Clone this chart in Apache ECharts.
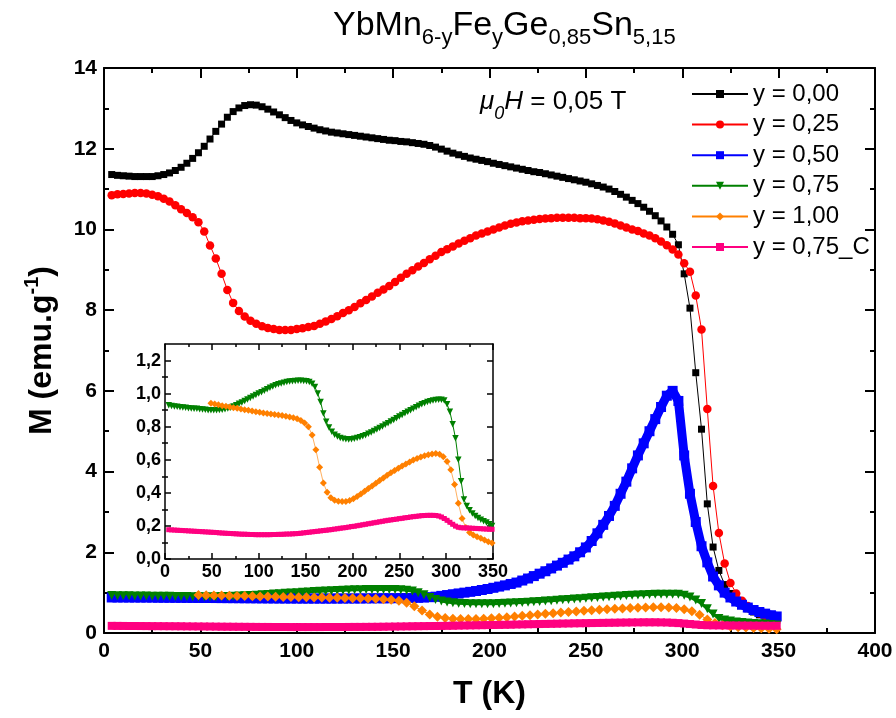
<!DOCTYPE html>
<html><head><meta charset="utf-8">
<script src="https://cdn.jsdelivr.net/npm/echarts/dist/echarts.min.js"></script>
<style>html,body{margin:0;padding:0;background:#fff}#c{width:896px;height:718px}</style>
</head><body><div id="c"></div>
<script>
// Temperature grid (K) for most series
const T_A = [4,7,10,13,16,19,22,25,28,31,
34,37,40,43,46,49,52,55,58,61,
64,67,70,73,76,79,82,85,88,91,
94,97,100,103,106,109,112,115,118,121,
124,127,130,133,136,139,142,145,148,151,
154,157,160,163,166,169,172,175,178,181,
184,187,190,193,196,199,202,205,208,211,
214,217,220,223,226,229,232,235,238,241,
244,247,250,253,256,259,262,265,268,271,
274,277,280,283,286,289,292,295,298,301,
304,307,310,313,316,319,322,325,328,331,
334,337,340,343,346,349];
// Temperature grid (K) for y = 1,00
const T_B = [49,53,57,61,65,69,73,77,81,85,
89,93,97,101,105,109,113,117,121,125,
129,133,137,141,145,149,153,157,161,165,
169,173,177,181,185,189,193,197,201,205,
209,213,217,221,225,229,233,237,241,245,
249,253,257,261,265,269,273,277,281,285,
289,293,297,301,305,309,313,317,321,325,
329,333,337,341,345,349];

const M_y000 = [11.36,11.34,11.33,11.32,11.31,11.31,11.31,11.31,11.33,11.36,
11.40,11.46,11.54,11.64,11.76,11.90,12.06,12.24,12.43,12.61,
12.78,12.92,13.01,13.07,13.09,13.08,13.04,12.98,12.91,12.84,
12.77,12.70,12.64,12.59,12.55,12.51,12.47,12.44,12.41,12.39,
12.37,12.35,12.33,12.31,12.29,12.27,12.25,12.23,12.21,12.20,
12.18,12.17,12.15,12.13,12.11,12.08,12.04,11.99,11.94,11.89,
11.85,11.81,11.77,11.74,11.71,11.68,11.64,11.61,11.58,11.55,
11.52,11.49,11.46,11.43,11.41,11.38,11.35,11.32,11.29,11.26,
11.23,11.20,11.17,11.13,11.09,11.05,11.00,10.94,10.87,10.80,
10.72,10.64,10.55,10.45,10.34,10.21,10.06,9.88,9.62,8.90,
8.05,6.45,5.05,3.20,2.13,1.55,1.20,0.98,0.82,0.70,
0.60,0.52,0.45,0.39,0.35,0.31];

const M_y025 = [10.85,10.87,10.88,10.89,10.90,10.90,10.89,10.86,10.82,10.76,
10.69,10.60,10.50,10.41,10.30,10.18,9.95,9.60,9.28,8.90,
8.50,8.18,7.98,7.84,7.74,7.66,7.60,7.56,7.53,7.51,
7.51,7.51,7.53,7.55,7.58,7.61,7.66,7.72,7.78,7.85,
7.93,8.00,8.08,8.17,8.25,8.34,8.43,8.51,8.60,8.70,
8.80,8.90,8.99,9.08,9.17,9.26,9.35,9.44,9.51,9.58,
9.65,9.72,9.78,9.85,9.90,9.95,10.00,10.05,10.10,10.14,
10.17,10.20,10.22,10.24,10.26,10.27,10.28,10.29,10.29,10.29,
10.29,10.28,10.28,10.27,10.25,10.22,10.19,10.15,10.10,10.05,
10.00,9.96,9.90,9.85,9.78,9.70,9.61,9.50,9.38,9.16,
8.95,8.36,7.52,5.55,3.64,2.48,1.72,1.24,0.98,0.80,
0.67,0.57,0.49,0.42,0.37,0.33];

const M_y050 = [0.880,0.880,0.880,0.879,0.879,0.878,0.878,0.877,0.876,0.875,
0.874,0.873,0.872,0.871,0.870,0.869,0.868,0.867,0.866,0.865,
0.864,0.863,0.862,0.861,0.860,0.859,0.858,0.857,0.856,0.855,
0.855,0.854,0.854,0.853,0.853,0.853,0.853,0.853,0.853,0.854,
0.854,0.855,0.855,0.856,0.857,0.858,0.859,0.860,0.861,0.862,
0.864,0.866,0.869,0.873,0.879,0.887,0.900,0.920,0.940,0.960,
0.980,1.000,1.020,1.040,1.065,1.090,1.120,1.150,1.180,1.215,
1.250,1.300,1.350,1.410,1.470,1.530,1.600,1.670,1.740,1.820,
1.900,2.000,2.120,2.280,2.470,2.680,2.900,3.150,3.450,3.750,
4.080,4.400,4.700,5.000,5.300,5.600,5.880,6.000,5.750,4.400,
3.450,2.750,2.150,1.750,1.400,1.180,1.000,0.880,0.780,0.700,
0.630,0.570,0.520,0.480,0.440,0.410];

const M_y075 = [0.930,0.925,0.922,0.920,0.918,0.916,0.914,0.912,0.910,0.909,
0.908,0.906,0.904,0.902,0.900,0.900,0.900,0.900,0.901,0.903,
0.906,0.910,0.915,0.922,0.930,0.938,0.946,0.955,0.964,0.973,
0.982,0.991,1.000,1.009,1.018,1.027,1.035,1.043,1.050,1.056,
1.061,1.066,1.070,1.073,1.075,1.077,1.078,1.078,1.077,1.075,
1.070,1.060,1.040,1.000,0.950,0.880,0.830,0.795,0.770,0.752,
0.740,0.732,0.727,0.724,0.723,0.724,0.727,0.731,0.736,0.742,
0.749,0.757,0.765,0.774,0.783,0.792,0.801,0.811,0.821,0.831,
0.841,0.851,0.861,0.871,0.881,0.891,0.900,0.909,0.918,0.927,
0.935,0.942,0.949,0.954,0.958,0.961,0.963,0.963,0.958,0.935,
0.890,0.815,0.730,0.600,0.470,0.360,0.320,0.295,0.275,0.260,
0.248,0.238,0.229,0.220,0.210,0.200];

const M_y100 = [0.942,0.937,0.932,0.927,0.923,0.919,0.915,0.911,0.907,0.903,
0.899,0.895,0.891,0.887,0.883,0.880,0.877,0.874,0.871,0.867,
0.863,0.859,0.854,0.848,0.838,0.822,0.800,0.750,0.660,0.555,
0.460,0.403,0.370,0.355,0.349,0.347,0.348,0.354,0.365,0.378,
0.393,0.409,0.426,0.442,0.458,0.474,0.490,0.506,0.521,0.535,
0.549,0.562,0.575,0.587,0.598,0.608,0.617,0.625,0.631,0.635,
0.638,0.634,0.618,0.590,0.540,0.450,0.337,0.245,0.190,0.160,
0.145,0.134,0.125,0.115,0.105,0.096];

const M_y075C = [0.177,0.176,0.175,0.174,0.173,0.172,0.171,0.170,0.169,0.168,
0.167,0.166,0.165,0.164,0.163,0.162,0.161,0.160,0.158,0.157,
0.156,0.155,0.154,0.153,0.152,0.151,0.150,0.150,0.149,0.148,
0.148,0.147,0.147,0.147,0.147,0.147,0.147,0.148,0.148,0.149,
0.149,0.150,0.151,0.151,0.152,0.153,0.154,0.156,0.158,0.160,
0.162,0.164,0.166,0.168,0.170,0.172,0.174,0.176,0.178,0.181,
0.183,0.186,0.188,0.190,0.193,0.196,0.198,0.201,0.204,0.207,
0.210,0.213,0.216,0.219,0.222,0.225,0.228,0.231,0.234,0.236,
0.239,0.241,0.244,0.246,0.249,0.251,0.254,0.256,0.258,0.260,
0.262,0.263,0.264,0.264,0.264,0.263,0.260,0.254,0.245,0.234,
0.222,0.210,0.199,0.192,0.189,0.188,0.188,0.187,0.186,0.185,
0.184,0.183,0.182,0.181,0.180,0.180];

const seriesNames = ['y = 0,00','y = 0,25','y = 0,50','y = 0,75','y = 1,00','y = 0,75_C'];
const insetYMajor = [0,0.2,0.4,0.6,0.8,1.0,1.2];
const insetYMinor = [0.1,0.3,0.5,0.7,0.9,1.1];

const F = "'Liberation Sans', Arial, sans-serif";
const K = '#000';
const pairs = (t, m) => t.map((x, i) => [x, m[i]]);

function frameAxis(extra, lw, tl, ml) {
  return Object.assign({
    type: 'value',
    axisLine: {show: true, onZero: false, lineStyle: {color: K, width: lw}},
    axisTick: {show: true, inside: true, length: tl, lineStyle: {color: K, width: lw}},
    minorTick: {show: true, splitNumber: 2, length: ml, lineStyle: {color: K, width: lw}},
    splitLine: {show: false},
    minorSplitLine: {show: false},
    axisLabel: {show: false}
  }, extra);
}

const mainLabel = {show: true, margin: 8, color: K, fontSize: 21, fontWeight: 'bold', fontFamily: F};
const insetLabel = {show: true, margin: 4, color: K, fontSize: 18, fontWeight: 'bold', fontFamily: F};
const comma = v => v.toFixed(1).replace('.', ',');

const option = {
  backgroundColor: '#fff',
  animation: false,
  textStyle: {fontFamily: F},
  title: [
    {
      text: '{m|YbMn}{s|6-y}{m|Fe}{s|y}{m|Ge}{s|0,85}{m|Sn}{s|5,15}',
      left: 333, top: 9, padding: 0,
      textStyle: {fontFamily: F, color: K, fontWeight: 'normal', rich: {
        m: {fontSize: 34, fontWeight: 'normal', lineHeight: 40, verticalAlign: 'top', color: K, fontFamily: F},
        s: {fontSize: 22, fontWeight: 'normal', lineHeight: 24, verticalAlign: 'top', padding: [18, 0, 0, 0], color: K, fontFamily: F}
      }}
    },
    {
      text: '{i|\u03bc}{j|0}{i|H}{n| = 0,05 T}',
      left: 480, top: 89, padding: 0,
      textStyle: {fontFamily: F, color: K, fontWeight: 'normal', rich: {
        i: {fontSize: 26, fontWeight: 'normal', fontStyle: 'italic', lineHeight: 30, verticalAlign: 'top', color: K, fontFamily: F},
        j: {fontSize: 18, fontWeight: 'normal', fontStyle: 'italic', lineHeight: 20, verticalAlign: 'top', padding: [16, 0, 0, 0], color: K, fontFamily: F},
        n: {fontSize: 26, fontWeight: 'normal', lineHeight: 30, verticalAlign: 'top', color: K, fontFamily: F}
      }}
    }
  ],
  legend: {
    orient: 'vertical', left: 691, top: 82, padding: 0,
    itemWidth: 56, itemHeight: 10, itemGap: 6.6,
    selectedMode: false,
    data: seriesNames,
    textStyle: {fontSize: 24, lineHeight: 24, color: K, fontFamily: F}
  },
  grid: [
    {left: 104, top: 68, width: 771, height: 565, containLabel: false},
    {left: 165, top: 344, width: 328, height: 215, containLabel: false, show: true, backgroundColor: '#fff', borderWidth: 0, z: 5}
  ],
  xAxis: [
    frameAxis({gridIndex: 0, min: 0, max: 400, interval: 50, position: 'bottom', axisLabel: mainLabel,
      name: 'T (K)', nameLocation: 'middle', nameGap: 45,
      nameTextStyle: {fontSize: 32, fontWeight: 'bold', color: K, fontFamily: F}}, 2, 10, 5),
    frameAxis({gridIndex: 0, min: 0, max: 400, interval: 50, position: 'top'}, 2, 10, 5),
    frameAxis({gridIndex: 1, min: 0, max: 350, interval: 50, position: 'bottom', axisLabel: insetLabel, z: 6}, 1.5, 6, 3),
    frameAxis({gridIndex: 1, min: 0, max: 350, interval: 50, position: 'top', z: 6}, 1.5, 6, 3)
  ],
  yAxis: [
    frameAxis({gridIndex: 0, min: 0, max: 14, interval: 2, position: 'left',
      axisLabel: Object.assign({}, mainLabel, {margin: 7}),
      name: '{a|M (emu.g}{b|-1}{a|)}', nameLocation: 'middle', nameGap: 44,
      nameTextStyle: {color: K, fontFamily: F, fontWeight: 'bold', rich: {
        a: {fontSize: 32, fontWeight: 'bold', lineHeight: 38, verticalAlign: 'top', padding: [4, 0, 0, 0], color: K, fontFamily: F},
        b: {fontSize: 20, fontWeight: 'bold', lineHeight: 22, verticalAlign: 'top', color: K, fontFamily: F}
      }}}, 2, 10, 5),
    frameAxis({gridIndex: 0, min: 0, max: 14, interval: 2, position: 'right'}, 2, 10, 5),
    frameAxis({gridIndex: 1, min: 0, max: 1.3, interval: 0.1, position: 'left', z: 6,
      axisTick: {show: true, inside: true, length: 6, customValues: insetYMajor, lineStyle: {color: K, width: 1.5}},
      minorTick: {show: false},
      axisLabel: Object.assign({}, insetLabel, {customValues: insetYMajor, formatter: comma})}, 1.5, 6, 3),
    frameAxis({gridIndex: 1, min: 0, max: 1.3, interval: 0.1, position: 'left', z: 6,
      axisLine: {show: false},
      axisTick: {show: true, inside: true, length: 3, customValues: insetYMinor, lineStyle: {color: K, width: 1.5}},
      minorTick: {show: false}}, 1.5, 3, 3),
    frameAxis({gridIndex: 1, min: 0, max: 1.3, interval: 0.1, position: 'right', z: 6,
      axisTick: {show: true, inside: true, length: 6, customValues: insetYMajor, lineStyle: {color: K, width: 1.5}},
      minorTick: {show: false}}, 1.5, 6, 3),
    frameAxis({gridIndex: 1, min: 0, max: 1.3, interval: 0.1, position: 'right', z: 6,
      axisLine: {show: false},
      axisTick: {show: true, inside: true, length: 3, customValues: insetYMinor, lineStyle: {color: K, width: 1.5}},
      minorTick: {show: false}}, 1.5, 3, 3)
  ],
  series: [
    {name: seriesNames[0], type: 'line', xAxisIndex: 0, yAxisIndex: 0, data: pairs(T_A, M_y000),
      symbol: 'rect', symbolSize: 7, showAllSymbol: true, color: '#000000',
      itemStyle: {color: '#000000'}, lineStyle: {color: '#000000', width: 1}},
    {name: seriesNames[1], type: 'line', xAxisIndex: 0, yAxisIndex: 0, data: pairs(T_A, M_y025),
      symbol: 'circle', symbolSize: 8.5, showAllSymbol: true, color: '#ff0000',
      itemStyle: {color: '#ff0000'}, lineStyle: {color: '#ff0000', width: 1}},
    {name: seriesNames[2], type: 'line', xAxisIndex: 0, yAxisIndex: 0, data: pairs(T_A, M_y050),
      symbol: 'rect', symbolSize: 10, showAllSymbol: true, color: '#0000ff',
      itemStyle: {color: '#0000ff'}, lineStyle: {color: '#0000ff', width: 9}},
    {name: seriesNames[3], type: 'line', xAxisIndex: 0, yAxisIndex: 0, data: pairs(T_A, M_y075),
      symbol: 'triangle', symbolRotate: 180, symbolSize: 9, showAllSymbol: true, color: '#008000',
      itemStyle: {color: '#008000'}, lineStyle: {color: '#008000', width: 3}},
    {name: seriesNames[4], type: 'line', xAxisIndex: 0, yAxisIndex: 0, data: pairs(T_B, M_y100),
      symbol: 'diamond', symbolSize: 10, showAllSymbol: true, color: '#ff8000',
      itemStyle: {color: '#ff8000'}, lineStyle: {color: '#ff8000', width: 1}},
    {name: seriesNames[5], type: 'line', xAxisIndex: 0, yAxisIndex: 0, data: pairs(T_A, M_y075C),
      symbol: 'rect', symbolSize: 8, showAllSymbol: true, color: '#ff0080',
      itemStyle: {color: '#ff0080'}, lineStyle: {color: '#ff0080', width: 7}},
    // inset
    {name: seriesNames[3], type: 'line', xAxisIndex: 2, yAxisIndex: 2, data: pairs(T_A, M_y075), z: 7,
      symbol: 'triangle', symbolRotate: 180, symbolSize: 6.5, showAllSymbol: true, color: '#008000',
      itemStyle: {color: '#008000'}, lineStyle: {color: '#008000', width: 1}},
    {name: seriesNames[4], type: 'line', xAxisIndex: 2, yAxisIndex: 2, data: pairs(T_B, M_y100), z: 7,
      symbol: 'diamond', symbolSize: 7, showAllSymbol: true, color: '#ff8000',
      itemStyle: {color: '#ff8000'}, lineStyle: {color: '#ffb060', width: 1}},
    {name: seriesNames[5], type: 'line', xAxisIndex: 2, yAxisIndex: 2, data: pairs(T_A, M_y075C), z: 7,
      symbol: 'rect', symbolSize: 5, showAllSymbol: true, color: '#ff0080',
      itemStyle: {color: '#ff0080'}, lineStyle: {color: '#ff0080', width: 4}}
  ]
};

const chart = echarts.init(document.getElementById('c'), null, {renderer: 'canvas'});
chart.setOption(option);
</script>
</body></html>
